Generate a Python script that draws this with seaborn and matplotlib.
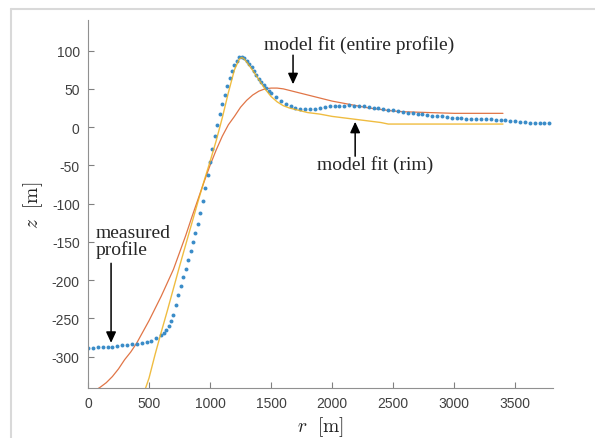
import numpy as np
import pandas as pd
import matplotlib
matplotlib.use('Agg')
import matplotlib.pyplot as plt
from matplotlib.lines import Line2D
import seaborn as sns

sns.set_style('ticks')
plt.rcParams['font.family'] = ['Liberation Sans', 'DejaVu Sans']
plt.rcParams['mathtext.fontset'] = 'cm'
plt.rcParams['axes.unicode_minus'] = False

# measured crater profile (blue dots)
r_meas = [0, 40, 80, 120, 160, 200, 240, 280, 320, 360, 400, 440, 480, 520, 560,
          600, 620, 640, 660, 680, 700, 720, 740, 760, 780, 800, 820, 840, 860, 880,
          900, 920, 940, 960, 980, 1000, 1020, 1040, 1060, 1080, 1100, 1120, 1140, 1160, 1180,
          1200, 1220, 1240, 1260, 1280, 1300, 1320, 1340, 1360, 1380, 1400, 1420, 1440, 1460, 1480,
          1500, 1540, 1580, 1620, 1660, 1700, 1740, 1780, 1820, 1860, 1900, 1940, 1980,
          2020, 2060, 2100, 2140, 2180, 2220, 2260, 2300, 2340, 2380, 2420, 2460, 2500,
          2540, 2580, 2620, 2660, 2700, 2740, 2780, 2820, 2860, 2900, 2940, 2980,
          3020, 3060, 3100, 3140, 3180, 3220, 3260, 3300, 3340, 3380, 3420, 3460, 3500,
          3540, 3580, 3620, 3660, 3700, 3740, 3780]
z_meas = [-289, -289, -288, -288, -287, -287, -286, -285, -285, -284, -283, -282, -281, -279, -276,
          -272, -269, -265, -260, -254, -245, -233, -220, -208, -196, -185, -174, -162, -150, -139,
          -127, -112, -96, -79, -62, -45, -28, -12, 3, 17, 30, 42, 54, 64, 73,
          81, 87, 91, 92, 90, 87, 83, 78, 73, 68, 63, 59, 55, 51, 47,
          44, 39, 34, 30, 27, 25, 24, 24, 24, 24, 25, 26, 27,
          27, 28, 28, 29, 28, 28, 27, 26, 25, 25, 24, 23, 22,
          21, 20, 19, 18, 17, 17, 16, 15, 15, 14, 13, 12,
          12, 12, 11, 11, 11, 10, 10, 10, 9, 9, 9, 8, 8,
          7, 7, 6, 6, 5, 5, 5]

# model fit to the entire profile (orange)
r_fit_all = [60, 100, 150, 200, 250, 300, 350, 400, 500, 600, 700, 800, 850, 900, 950,
             1000, 1050, 1100, 1150, 1200, 1250, 1300, 1350, 1400, 1450, 1500, 1550, 1600,
             1700, 1800, 1900, 2000, 2100, 2200, 2300, 2400, 2500, 2600, 2800, 3000, 3200, 3400]
z_fit_all = [-344, -340, -334, -326, -316, -304, -294, -282, -253, -221, -186, -142, -118, -95, -72,
             -50, -30, -12, 3, 14, 26, 35, 42, 47, 50, 51, 51, 50,
             46, 42, 38, 34, 31, 28, 25, 23, 21, 20, 19, 18, 18, 18]

# model fit to the rim (yellow)
r_fit_rim = [470, 500, 550, 600, 650, 700, 750, 800, 850, 900, 950, 1000, 1050, 1100, 1150,
             1200, 1240, 1260, 1280, 1300, 1350, 1400, 1450, 1500, 1550, 1600, 1650, 1700,
             1750, 1800, 1900, 2000, 2100, 2200, 2300, 2400, 2460, 2500, 3000, 3400]
z_fit_rim = [-342, -328, -297, -268, -240, -211, -182, -154, -126, -98, -71, -45, -18, 12, 45,
             75, 89, 91, 89, 85, 74, 62, 50, 40, 33, 28, 25, 23,
             21, 19, 17, 14, 12, 10, 8, 6, 4, 4, 4, 4]

x_ticks = [0, 500, 1000, 1500, 2000, 2500, 3000, 3500]
y_ticks = [-300, -250, -200, -150, -100, -50, 0, 50, 100]

meas = pd.DataFrame({'r': r_meas, 'z': z_meas})
fit_all = pd.DataFrame({'r': r_fit_all, 'z': z_fit_all})
fit_rim = pd.DataFrame({'r': r_fit_rim, 'z': z_fit_rim})

fig = plt.figure(figsize=(5.95, 4.39), dpi=100)
ax = fig.add_axes([88 / 595, 1 - 389 / 439, (553 - 88) / 595, (389 - 21) / 439])

sns.lineplot(data=fit_all, x='r', y='z', ax=ax, color='#D95319', linewidth=0.9,
             alpha=0.8, sort=False, estimator=None, zorder=2)
sns.lineplot(data=fit_rim, x='r', y='z', ax=ax, color='#EDB120', linewidth=1.0,
             alpha=0.85, sort=False, estimator=None, zorder=3)
sns.scatterplot(data=meas, x='r', y='z', ax=ax, color='#3a8cc8', s=8,
                linewidth=0, zorder=2.5)

ax.set_xlim(0, 3810)
ax.set_ylim(-341, 140)
ax.set_xticks(x_ticks)
ax.set_yticks(y_ticks)
ax.tick_params(direction='in', length=4, width=0.8, color='#808080',
               labelcolor='#404040', labelsize=10, pad=6)
sns.despine(ax=ax)
for side in ['left', 'bottom']:
    ax.spines[side].set_color('#909090')
    ax.spines[side].set_linewidth(0.8)

ax.set_xlabel(r'$r\ \ [\mathrm{m}]$', fontsize=14, labelpad=3, color='#202020')
ax.set_ylabel(r'$z\ \ [\mathrm{m}]$', fontsize=14, labelpad=5, color='#202020')

serif = ['Liberation Serif', 'DejaVu Serif']
arrow = dict(arrowstyle='-|>,head_width=0.3,head_length=0.65', color='black',
             lw=1.1, shrinkA=0, shrinkB=0)

ax.text(2223, 108, 'model fit (entire profile)', family=serif, fontsize=14,
        ha='center', va='center')
ax.annotate('', xy=(1680, 56), xytext=(1680, 94), arrowprops=arrow)

ax.text(2352, -48, 'model fit (rim)', family=serif, fontsize=14,
        ha='center', va='center')
ax.annotate('', xy=(2189, 7), xytext=(2189, -38), arrowprops=arrow)

ax.text(66, -149, 'measured\nprofile', family=serif, fontsize=14,
        ha='left', va='center', linespacing=0.9)
ax.annotate('', xy=(189, -282), xytext=(189, -178), arrowprops=arrow)

# light frame of the cropped screenshot
fig.add_artist(Line2D([11 / 595, 11 / 595], [0, 1 - 10 / 439], transform=fig.transFigure,
                      color='#d9d9d9', lw=1.5))
fig.add_artist(Line2D([11 / 595, 1], [1 - 10 / 439, 1 - 10 / 439], transform=fig.transFigure,
                      color='#d9d9d9', lw=1.5))

fig.savefig('out.png', dpi=100)
